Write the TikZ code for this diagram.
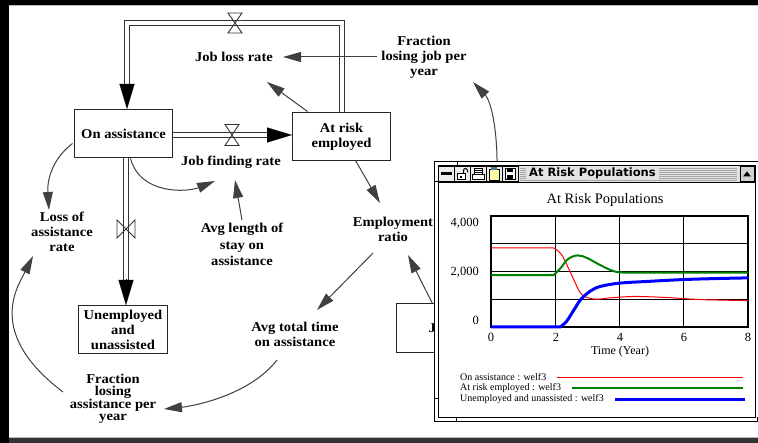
\documentclass[tikz,border=0pt]{standalone}
\usepackage{fontspec}
\setmainfont{Liberation Serif}
\newfontfamily\diagfont{Liberation Serif}[FakeStretch=1.08]
\newfontfamily\winfont{DejaVu Sans}
\usetikzlibrary{arrows.meta,calc}
\tikzset{
  box/.style={draw=black!85, line width=1pt, minimum width=98pt, minimum height=48pt, inner sep=0pt, align=center, font=\diagfont\bfseries\fontsize{13.5}{15}\selectfont},
  lbl/.style={align=center, inner sep=0pt, font=\diagfont\bfseries\fontsize{13.5}{15}\selectfont},
  info/.style={draw=black!75, line width=1pt, -{Triangle[length=18pt,width=10pt]}},
  pipe/.style={draw=black!80, double=white, double distance=4pt, line width=1pt},
  flowhead/.style={draw=black, line width=0.1pt, -{Triangle[length=25pt,width=15pt]}},
  valve/.style={draw=black!80, line width=0.9pt},
  axlbl/.style={inner sep=0pt, font=\fontsize{12.5}{14}\selectfont},
  leg/.style={inner sep=0pt, anchor=west, font=\fontsize{10}{12}\selectfont}
}
\begin{document}
\begin{tikzpicture}[x=1pt,y=-1pt]
\useasboundingbox (0,0) rectangle (758,443);
% frame
\fill[black] (0,0) rectangle (758,443);
\fill[gray!55] (9,5) rectangle (758,438.5);
\fill[white] (9,6) rectangle (758,437);
\fill[black!80] (9,438.5) rectangle (758,443);

% stocks
\node[box] (onA) at (123.5,133.5) {On assistance};
\node[box] (are) at (341.5,136.5) {At risk\\employed};
\node[box, minimum width=89pt] (unemp) at (123,329.5) {Unemployed\\and\\unassisted};
\node[box, anchor=north west, minimum width=80pt, minimum height=49pt] (jbox) at (395.5,303.5) {};
\node[lbl, anchor=west] (jtxt) at (428.5,328) {J};

% variables
\node[lbl] (jobloss) at (234,57) {Job loss rate};
\node[lbl] (jobfind) at (231,162) {Job finding rate};
\node[lbl] (loss) at (62,232) {Loss of\\assistance\\rate};
\node[lbl, font=\diagfont\bfseries\fontsize{13.5}{16.5}\selectfont] (avglen) at (242,244.5) {Avg length of\\stay on\\assistance};
\node[lbl] (empr) at (393,229.5) {Employment\\ratio};
\node[lbl] (avgtot) at (295,334.5) {Avg total time\\on assistance};
\node[lbl, font=\diagfont\bfseries\fontsize{13.5}{12}\selectfont] (fla) at (113,398.5) {Fraction\\losing\\assistance per\\year};
\node[lbl] (flj) at (424,57) {Fraction\\losing job per\\year};

% flows
\coordinate (vtop) at (235,23);
\coordinate (vjf) at (232,135);
\coordinate (vla) at (126,229);
\draw[pipe, shorten >=14pt] ([xshift=0.5pt]are.north) |- (vtop) -| ([xshift=3.5pt]onA.north);
\draw[flowhead] ([xshift=3.5pt,yshift=25pt]onA.north) -- ([xshift=3.5pt]onA.north);
\draw[pipe, shorten >=14pt] (onA.east |- vjf) -- (are.west |- vjf);
\draw[flowhead] ($(are.west |- vjf)+(-25,0)$) -- (are.west |- vjf);
\draw[pipe, shorten >=14pt] (onA.south -| vla) -- (unemp.north -| vla);
\draw[flowhead] ($(unemp.north -| vla)+(0,-26)$) -- (unemp.north -| vla);
% valves
\draw[valve] ($(vtop)+(-7,-10)$) -- ($(vtop)+(7,-10)$) -- ($(vtop)+(-7,10)$) -- ($(vtop)+(7,10)$) -- cycle;
\draw[valve] ($(vjf)+(-7,-10.5)$) -- ($(vjf)+(7,-10.5)$) -- ($(vjf)+(-7,10.5)$) -- ($(vjf)+(7,10.5)$) -- cycle;
\draw[valve] ($(vla)+(-9,-9)$) -- ($(vla)+(-9,9)$) -- ($(vla)+(9,-9)$) -- ($(vla)+(9,9)$) -- cycle;

% information links
\draw[info] ($(are.center)+(-34,-25)$) -- ($(jobloss.center)+(33,25)$);
\draw[info] ($(flj.center)+(-47,0)$) -- ($(jobloss.center)+(49,0)$);
\draw[info] ($(are.center)+(14,24)$) -- ($(empr.center)+(-13,-26.5)$);
\draw[info] ($(empr.center)+(-20,23.5)$) -- ($(avgtot.center)+(22,-24.5)$);
\draw[info] ($(jbox.north west)+(37,0)$) -- ($(empr.center)+(15,25.5)$);
\draw[info] ($(avglen.center)+(0,-24.5)$) -- ($(jobfind.center)+(4,18)$);
\draw[info] ($(onA.center)+(7,25)$) .. controls +(10,37) and +(-27,11) .. ($(jobfind.center)+(-16,19)$);
\draw[info] ($(onA.center)+(-51,10)$) .. controls +(-20,15) and +(-2,-30) .. ($(loss.center)+(-13,-22)$);
\draw[info] ($(avgtot.center)+(-18,25.5)$) .. controls +(-27,35) and +(30,-3) .. ($(fla.center)+(51,10.5)$);
\draw[info] ($(fla.center)+(-50,-6.5)$) .. controls +(-78,-59) and +(-15,30) .. ($(loss.center)+(-29,24)$);
\coordinate (winsrc) at (497,175);
\draw[info] (winsrc) .. controls +(1,-50) and +(17,18) .. ($(flj.center)+(49,25)$);

% graph window
\draw[black, line width=1pt, fill=white] (434.5,161.5) rectangle (775,421.5);
\draw[black, line width=1pt, fill=white] (438.5,165.5) rectangle (755.5,417.5);
\fill[gray!22] (439,166) rectangle (755,182);
\draw[black, line width=1pt] (438.5,182.5) -- (755.5,182.5);
\draw[black, line width=1pt] (457.5,161.5) -- (457.5,165.5) (456.5,417.5) -- (456.5,421.5) (434.5,181.5) -- (438.5,181.5) (434.5,398.5) -- (438.5,398.5) (757.5,417.5) -- (757.5,421.5);
% stripes
\foreach \yy in {168.5,170.5,...,180.5} { \draw[gray!70, line width=1pt] (520,\yy) -- (737,\yy); }
\node[font=\winfont\bfseries\fontsize{11.5}{13}\selectfont, anchor=west, fill=gray!22, inner xsep=3pt, inner ysep=1pt] (wtitle) at (526,173.5) {At Risk Populations};
% icons
\draw[black, line width=1pt, fill=gray!15] (438.5,166.5) rectangle (454.5,181.5);
\fill[black] (441,172.5) rectangle (452,175.5);
\draw[black, line width=1pt, fill=gray!15] (454.5,166.5) rectangle (470.5,181.5);
\draw[black, line width=1pt, fill=white] (457.5,173.5) rectangle (465.5,179.5);
\draw[black, line width=1pt] (463.5,173.5) -- (463.5,170.5) arc[start angle=180, end angle=0, radius=2pt] -- (467.5,172.5);
\fill[black] (460,176) rectangle (462,178);
\draw[black, line width=1pt, fill=gray!15] (470.5,166.5) rectangle (486.5,181.5);
\draw[black, line width=1pt, fill=white] (474.5,168.5) rectangle (482.5,174.5);
\draw[black, line width=1pt, fill=white] (472.5,174.5) rectangle (484.5,179.5);
\draw[black, line width=0.7pt] (474.5,170.5) -- (482.5,170.5) (474.5,172.5) -- (482.5,172.5);
\draw[black, line width=1pt, fill=gray!15] (486.5,166.5) rectangle (502.5,181.5);
\draw[black, line width=1pt, fill=yellow!35] (489.5,169.5) rectangle (499.5,180.5);
\fill[cyan!50!black] (491,167.5) rectangle (497,170.5);
\draw[black, line width=1pt, fill=gray!15] (502.5,166.5) rectangle (518.5,181.5);
\draw[black, line width=1pt, fill=white] (505.5,168.5) rectangle (515.5,179.5);
\fill[black] (507,168) rectangle (513,172.5);
\fill[black] (507,175) rectangle (513,180);
% scroll button
\draw[black, line width=1pt, fill=gray!35] (740.5,166.5) rectangle (754.5,181.5);
\fill[black] (743,176.5) -- (751,176.5) -- (747,171.5) -- cycle;

% chart
\node[inner sep=0pt, font=\fontsize{14.5}{16}\selectfont] (ptitle) at (605,200) {At Risk Populations};
\node[axlbl, anchor=east] (y4) at (479,223) {4,000};
\node[axlbl, anchor=east] (y2) at (479,272) {2,000};
\node[axlbl, anchor=east] (y0) at (479,320) {0};
\node[axlbl] (x0) at (491,337) {0};
\node[axlbl] (x2) at (556,337) {2};
\node[axlbl] (x4) at (620,337) {4};
\node[axlbl] (x6) at (684,337) {6};
\node[axlbl] (x8) at (748,337) {8};
\node[inner sep=0pt, font=\fontsize{12}{14}\selectfont] (xlab) at (620,352) {Time (Year)};
\begin{scope}[shift={(491,327)}, x=32.125pt, y=0.02775pt]
  \draw[black, line width=1pt] (2,0) -- (2,4000) (4,0) -- (4,4000) (6,0) -- (6,4000)
        (0,1000) -- (8,1000) (0,2000) -- (8,2000) (0,3000) -- (8,3000);
  \draw[black, line width=2pt] (0,0) rectangle (8,4000);
  \draw[red, line width=1pt] (0,2850) -- plot[smooth, tension=0.55] coordinates {(1.95,2850) (2.2,2600) (2.5,1900) (2.77,1250) (3.0,1060) (3.3,1000) (3.7,1050) (4.5,1100) (5.5,1060) (6.5,990) (8,950)};
  \draw[green!50!black, line width=2pt] (0,1870) -- plot[smooth, tension=0.55] coordinates {(1.95,1870) (2.15,2100) (2.4,2450) (2.7,2580) (3.0,2480) (3.4,2230) (3.8,2020) (4.2,1960) (6,1960) (8,1960)};
  \draw[blue, line width=3pt] (0,0) -- plot[smooth, tension=0.55] coordinates {(2.15,0) (2.35,200) (2.6,650) (2.8,1000) (3.1,1300) (3.4,1460) (4,1580) (5,1650) (6,1710) (7,1745) (8,1770)};
\end{scope}
% legend
\node[leg] (l1) at (460,377) {On assistance : welf3};
\node[leg] (l2) at (460,388) {At risk employed : welf3};
\node[leg] (l3) at (460,399) {Unemployed and unassisted : welf3};
\draw[red, line width=1.3pt] (557,377.5) -- (743,377.5);
\draw[green!50!black, line width=2pt] (572,388) -- (743,388);
\draw[blue, line width=3pt] (615,399.5) -- (745,399.5);
\end{tikzpicture}
\end{document}
